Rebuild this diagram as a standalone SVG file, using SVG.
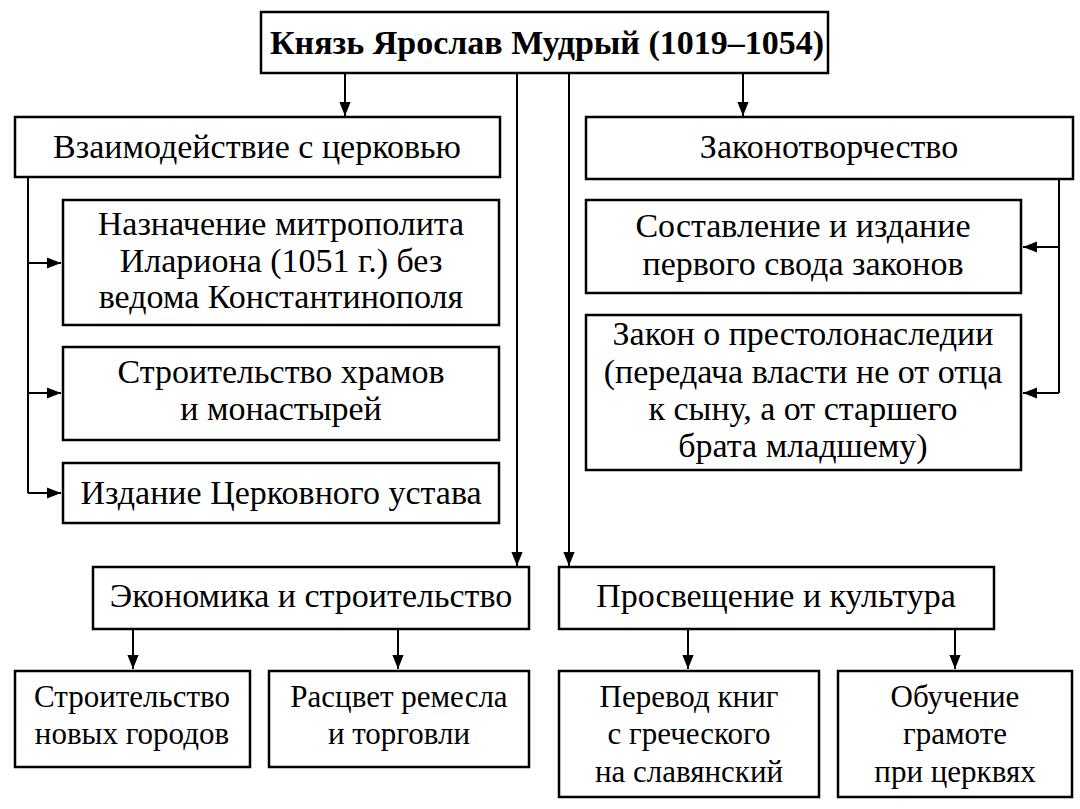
<svg xmlns="http://www.w3.org/2000/svg" width="1080" height="809" viewBox="0 0 1080 809">
<style>
rect{fill:#fff;stroke:#000;stroke-width:2.5}
text{font-family:"Liberation Serif",serif;font-size:34px;text-anchor:middle;fill:#000}
.s{font-size:31px}
.c{stroke:#000;stroke-width:2;fill:none}
</style>
<defs><marker id="a" viewBox="0 0 10 10" refX="10" refY="5" markerWidth="7" markerHeight="7" orient="auto"><path d="M0,1L10,5L0,9z"/></marker></defs>
<rect width="1080" height="809" style="fill:#fff;stroke:none"/>
<g id="connectors">
<path class="c" d="M345,73V116" marker-end="url(#a)"/>
<path class="c" d="M743,73V116" marker-end="url(#a)"/>
<path class="c" d="M517,73V566" marker-end="url(#a)"/>
<path class="c" d="M569,73V566" marker-end="url(#a)"/>
<path class="c" d="M28,177V493"/>
<path class="c" d="M28,263H61" marker-end="url(#a)"/>
<path class="c" d="M28,393H61" marker-end="url(#a)"/>
<path class="c" d="M28,493H61" marker-end="url(#a)"/>
<path class="c" d="M1059,179V393"/>
<path class="c" d="M1059,247H1023" marker-end="url(#a)"/>
<path class="c" d="M1059,393H1023" marker-end="url(#a)"/>
<path class="c" d="M133,629V669" marker-end="url(#a)"/>
<path class="c" d="M398,629V669" marker-end="url(#a)"/>
<path class="c" d="M688,629V669" marker-end="url(#a)"/>
<path class="c" d="M955,629V669" marker-end="url(#a)"/>
</g>
<g id="top"><rect x="261" y="12" width="567" height="61"/><text x="547" y="54" font-weight="bold" font-size="30">Князь Ярослав Мудрый (1019–1054)</text></g>
<g id="church"><rect x="15" y="117" width="485" height="60"/><text x="257" y="158">Взаимодействие с церковью</text></g>
<g id="metro"><rect x="63" y="200" width="436" height="125"/><text x="281" y="235">Назначение митрополита</text><text x="281" y="272">Илариона (1051 г.) без</text><text x="281" y="308">ведома Константинополя</text></g>
<g id="temples"><rect x="63" y="347" width="436" height="93"/><text x="281" y="383">Строительство храмов</text><text x="281" y="420">и монастырей</text></g>
<g id="ustav"><rect x="63" y="463" width="436" height="60"/><text x="281" y="504">Издание Церковного устава</text></g>
<g id="law"><rect x="586" y="117" width="487" height="62"/><text x="829" y="158">Законотворчество</text></g>
<g id="svod"><rect x="586" y="200" width="435" height="93"/><text x="803" y="237">Составление и издание</text><text x="803" y="275">первого свода законов</text></g>
<g id="prestol"><rect x="586" y="315" width="435" height="155"/><text x="803" y="345">Закон о престолонаследии</text><text x="803" y="383">(передача власти не от отца</text><text x="803" y="420">к сыну, а от старшего</text><text x="803" y="457">брата младшему)</text></g>
<g id="econ"><rect x="93" y="567" width="436" height="62"/><text x="311" y="607">Экономика и строительство</text></g>
<g id="enl"><rect x="559" y="567" width="435" height="62"/><text x="776" y="607">Просвещение и культура</text></g>
<g id="cities"><rect x="15" y="671" width="235" height="96"/><text class="s" x="132" y="707">Строительство</text><text class="s" x="132" y="744">новых городов</text></g>
<g id="craft"><rect x="269" y="671" width="260" height="96"/><text class="s" x="399" y="707">Расцвет ремесла</text><text class="s" x="399" y="744">и торговли</text></g>
<g id="books"><rect x="559" y="671" width="260" height="126"/><text class="s" x="689" y="707">Перевод книг</text><text class="s" x="689" y="744">с греческого</text><text class="s" x="689" y="782">на славянский</text></g>
<g id="school"><rect x="838" y="671" width="234" height="126"/><text class="s" x="955" y="707">Обучение</text><text class="s" x="955" y="744">грамоте</text><text class="s" x="955" y="782">при церквях</text></g>
</svg>
